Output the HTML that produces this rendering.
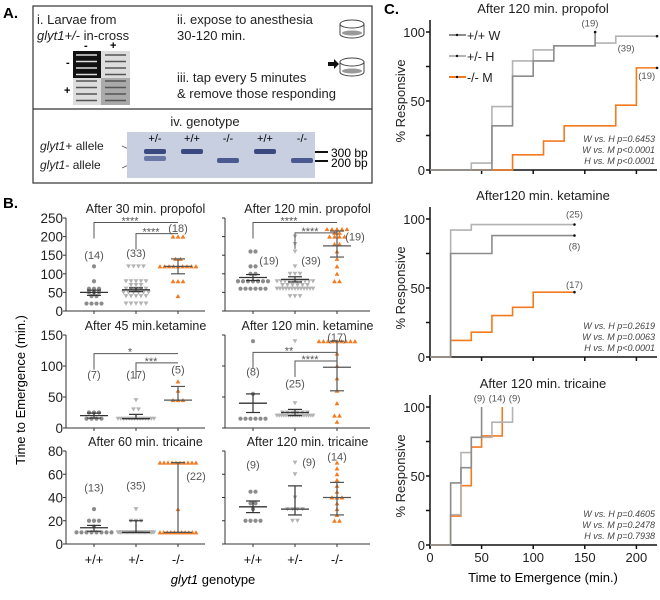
<!DOCTYPE html>
<html><head><meta charset="utf-8"><style>
body{margin:0;background:#fff}
svg{font-family:"Liberation Sans",sans-serif;display:block}
</style></head><body>
<svg id="fig" width="660" height="600" viewBox="0 0 660 600" xmlns="http://www.w3.org/2000/svg">
<g id="panelA">
<text x="3" y="18" font-size="15" font-weight="bold">A.</text>
<rect x="33" y="6" width="339" height="177" fill="none" stroke="#333" stroke-width="1.2"/>
<line x1="33" y1="109" x2="372" y2="109" stroke="#333" stroke-width="1.2"/>
<text x="37" y="24" font-size="13" fill="#222">i. Larvae from</text>
<text x="37" y="40" font-size="13" fill="#222"><tspan font-style="italic">glyt1+/-</tspan> in-cross</text>
<text x="177" y="24" font-size="13" fill="#222">ii. expose to anesthesia</text>
<text x="177" y="40" font-size="13" fill="#222">30-120 min.</text>
<text x="177" y="82" font-size="13" fill="#222">iii. tap every 5 minutes</text>
<text x="177" y="98" font-size="13" fill="#222">&amp; remove those responding</text>
<text x="84" y="49" font-size="11" font-weight="bold">-</text><text x="110" y="49" font-size="11" font-weight="bold">+</text>
<text x="66" y="66" font-size="11" font-weight="bold">-</text><text x="64" y="94" font-size="11" font-weight="bold">+</text>
<g>
<rect x="73" y="51" width="57" height="54" fill="#ddd"/>
<rect x="73" y="51" width="28" height="27" fill="#111"/>
<rect x="101" y="78" width="29" height="27" fill="#aaa"/>
<g id="fish"></g>
</g>
<g>
<ellipse cx="352" cy="24" rx="12" ry="4" fill="none" stroke="#444"/><path d="M340 24 V34 A12 4 0 0 0 364 34 V24" fill="none" stroke="#444"/><ellipse cx="352" cy="33" rx="10" ry="2.5" fill="#999"/></g>
<g>
<ellipse cx="352" cy="62" rx="12" ry="4" fill="none" stroke="#444"/><path d="M340 62 V72 A12 4 0 0 0 364 72 V62" fill="none" stroke="#444"/><ellipse cx="352" cy="71" rx="10" ry="2.5" fill="#999"/>
<path d="M328 62 h6 v-3 l5 5 l-5 5 v-3 h-6z" fill="#111"/></g>
<text x="205" y="126" font-size="13" text-anchor="middle" fill="#222">iv. genotype</text>
<text x="40" y="150" font-size="12" fill="#222"><tspan font-style="italic">glyt1</tspan>+ allele</text>
<text x="40" y="169" font-size="12" fill="#222"><tspan font-style="italic">glyt1</tspan>- allele</text>
<line x1="122" y1="146" x2="140" y2="154" stroke="#555" stroke-width="0.8"/>
<line x1="122" y1="168" x2="140" y2="160" stroke="#555" stroke-width="0.8"/>
<rect x="127" y="132" width="188" height="46" fill="#c7cfe0"/>
<g id="gel"></g>
<line x1="315" y1="152" x2="328" y2="152" stroke="#111" stroke-width="2"/>
<line x1="315" y1="161" x2="328" y2="161" stroke="#111" stroke-width="2"/>
<text x="331" y="157" font-size="12">300 bp</text>
<text x="331" y="167" font-size="12">200 bp</text>
</g>
<g id="panelB">
<text x="3" y="208" font-size="15" font-weight="bold">B.</text>
<text transform="translate(25,390) rotate(-90)" font-size="13" text-anchor="middle">Time to Emergence (min.)</text>
<text x="213" y="584" font-size="13" text-anchor="middle"><tspan font-style="italic">glyt1</tspan> genotype</text>
</g>
<g id="panelC">
<text x="384" y="14" font-size="15" font-weight="bold">C.</text>
<text x="543" y="582" font-size="13" text-anchor="middle">Time to Emergence (min.)</text>
</g>
</svg>
<script>
const NS="http://www.w3.org/2000/svg";
function mk(tag,attrs,parent,txt){const e=document.createElementNS(NS,tag);for(const k in attrs)e.setAttribute(k,attrs[k]);if(txt!==undefined)e.textContent=txt;parent.appendChild(e);return e;}
const ORANGE="#f47a20",DARK="#8c8c8c",LIGHT="#b3b3b3";

const fish=document.getElementById('fish');
for(let r=0;r<8;r++)for(let c=0;c<2;c++){const dark=(r<4&&c==0);
 mk('line',{x1:76+c*29,y1:55+r*6.5,x2:97+c*29,y2:55+r*6.5,stroke:dark?'#ddd':'#555','stroke-width':1.6},fish);}
const gel=document.getElementById('gel');
const laneX=[155,192,228,265,302];
const laneLabels=["+/-","+/+","-/-","+/+","-/-"];
const laneBands=[[1,1],[1,0],[0,1],[1,0],[0,1]];
laneX.forEach((x,i)=>{
 const t=mk('text',{x:x,y:142,'font-size':11,'text-anchor':'middle'},gel,laneLabels[i]);
 
 
 if(laneBands[i][0])mk('rect',{x:x-11,y:149,width:22,height:5,rx:2,fill:'#3a4a80'},gel);
 if(laneBands[i][1])mk('rect',{x:x-11,y:i==0?156:158,width:22,height:5,rx:2,fill:i==0?'#6a78a8':'#4a5a90'},gel);
});

// ---------- Panel B data ----------
const genotypes=["+/+","+/-","-/-"];
const bTitles=["After 30 min. propofol","After 120 min. propofol","After 45 min.ketamine","After 120 min. ketamine","After 60 min. tricaine","After 120 min. tricaine"];
const bMax=[250,250,150,150,80,80];
const bTickStep=[50,50,50,50,20,20];
const bW1=[120,80,60,60,60,50,50,50,40,40,20,20,20,20];
const bH1=[120,120,120,120,80,80,80,80,80,70,70,70,60,60,60,60,60,50,50,50,50,50,50,40,40,40,40,40,20,20,20,20,20];
const bM1=[200,200,200,140,140,120,120,120,120,120,120,120,120,120,80,80,80,40];
const bW2=[160,160,120,120,100,100,80,80,80,80,80,80,80,60,60,60,60,60,60];
const bH2=[200,180,160,120,100,100,100,80,80,80,80,80,80,80,80,80,80,70,70,70,70,70,70,60,60,60,60,60,60,60,60,60,60,60,60,60,40,40,40];
const bM2=[220,220,220,220,220,210,210,200,200,200,200,180,180,160,140,120,100,80,80];
const bW3=[25,25,25,15,15,15,15];
const bH3=[45,30,30,15,15,15,15,15,15,15,15,15,15,15,15,15,15];
const bM3=[75,60,45,45,45];
const bW4=[140,55,15,15,15,15,15,15];
const bH4=[140,40,25,25,25,25,25,25,20,20,20,20,20,20,20,20,20,20,20,20,20,20,20,20,20];
const bM4=[140,140,140,140,140,140,140,140,140,120,100,80,60,40,20,20,10];
const bW5=[30,20,20,20,15,10,10,10,10,10,10,10,10];
const bH5=[30,20,20,20,10,10,10,10,10,10,10,10,10,10,10,10,10,10,10,10,10,10,10,10,10,10,10,10,10,10,10,10,10,10,10];
const bM5=[70,70,70,70,70,70,70,70,70,70,30,10,10,10,10,10,10,10,10,10,10,10];
const bW6=[45,45,35,35,30,20,20,20,20];
const bH6=[70,60,40,30,30,30,30,20,20];
const bM6=[70,65,60,55,50,45,40,40,40,35,30,25,20,20];
const bSeries=[[bW1,bH1,bM1],[bW2,bH2,bM2],[bW3,bH3,bM3],[bW4,bH4,bM4],[bW5,bH5,bM5],[bW6,bH6,bM6]];
const bCenter=[[50,57,120],[90,85,175],[20,15,45],[40,25,98],[14,10,10],[32,30,40]];
const bLow=[[42,52,100],[82,78,145],[16,15,45],[25,20,60],[11,10,10],[27,25,25]];
const bHigh=[[56,62,140],[98,92,215],[24,22,67],[55,30,140],[16,20,70],[37,50,53]];
const bNLabelVal=[[140,145,212],[125,125,190],[80,80,88],[85,65,140],[45,47,55],[65,67,72]];
const bNLabelDx=[[0,0,0],[16,16,18],[0,0,0],[0,0,0],[0,0,18],[0,14,0]];
const sigPanel=[0,0,1,1,2,2,3,3];
const sigFrom=[0,1,0,1,0,1,0,1];
const sigVal=[238,208,238,210,120,105,122,108];
const sigStars=["****","****","****","****","*","***","**","****"];

const pB=document.getElementById('panelB');
const colAxisX=[66,225],colGroupX=[[94,136,178],[253,295,337]],colRight=[205,370];
const rowTop=[218,335,451],rowZero=[311,428,544];
function yB(p,v){const r=Math.floor(p/2);return rowZero[r]-(v/bMax[p])*(rowZero[r]-rowTop[r]);}
function marker(g,shape,x,y,color){
 let e;
 if(shape==0)e=mk('circle',{cx:x,cy:y,r:2.1,fill:color},g);
 else if(shape==1)e=mk('path',{d:`M${x-2.4} ${y-2} L${x+2.4} ${y-2} L${x} ${y+2.2}Z`,fill:color},g);
 else e=mk('path',{d:`M${x-2.4} ${y+2} L${x+2.4} ${y+2} L${x} ${y-2.2}Z`,fill:color},g);
 return e;
}
const colors=[DARK,LIGHT,ORANGE];
for(let p=0;p<6;p++){
 const r=Math.floor(p/2),c=p%2;
 const g=mk('g',{},pB);
 
 
 const ax=colAxisX[c];
 const tt=mk('text',{x:(ax+colRight[c])/2+10,y:rowTop[r]-5,'font-size':12.5,'text-anchor':'middle',fill:'#222'},g,bTitles[p]);
 
 
 mk('line',{x1:ax,y1:rowTop[r],x2:ax,y2:rowZero[r],stroke:'#333','stroke-width':1},g);
 mk('line',{x1:ax,y1:rowZero[r],x2:colRight[c],y2:rowZero[r],stroke:'#333','stroke-width':1},g);
 for(let v=0;v<=bMax[p];v+=bTickStep[p]){
  const y=yB(p,v);
  mk('line',{x1:ax-3,y1:y,x2:ax,y2:y,stroke:'#333'},g);
  if(c==0){const t=mk('text',{x:ax-3,y:y+5,'font-size':13.5,'text-anchor':'end',fill:'#222'},g,v);
   
   }
 }
 for(let k=0;k<3;k++){
  const gx=colGroupX[c][k];
  mk('line',{x1:gx,y1:rowZero[r],x2:gx,y2:rowZero[r]+3,stroke:'#333'},g);
  const vals=bSeries[p][k];const counts={};vals.forEach(v=>counts[v]=(counts[v]||0)+1);
  const seen={};
  vals.forEach(v=>{const n=counts[v];const i=seen[v]=(seen[v]===undefined?0:seen[v]+1);
   const sp=Math.min(5,36/Math.max(n-1,1));
   const m=marker(g,k,gx+(i-(n-1)/2)*sp,yB(p,v),colors[k]);
   
   });
  const lc=k==2?'#555':'#333';
  mk('line',{x1:gx,y1:yB(p,bLow[p][k]),x2:gx,y2:yB(p,bHigh[p][k]),stroke:lc,'stroke-width':1.2},g);
  mk('line',{x1:gx-14,y1:yB(p,bCenter[p][k]),x2:gx+14,y2:yB(p,bCenter[p][k]),stroke:lc,'stroke-width':1.3},g);
  mk('line',{x1:gx-7,y1:yB(p,bLow[p][k]),x2:gx+7,y2:yB(p,bLow[p][k]),stroke:lc,'stroke-width':1.2},g);
  mk('line',{x1:gx-7,y1:yB(p,bHigh[p][k]),x2:gx+7,y2:yB(p,bHigh[p][k]),stroke:lc,'stroke-width':1.2},g);
  const nl=mk('text',{x:gx+bNLabelDx[p][k],y:yB(p,bNLabelVal[p][k]),'font-size':11,'text-anchor':'middle',fill:'#555'},g,'('+vals.length+')');
  
  
  if(r==2){const xl=mk('text',{x:gx,y:564,'font-size':13,'text-anchor':'middle',fill:'#111'},g,genotypes[k]);
   
   }
 }
}
sigPanel.forEach((p,i)=>{
 const c=p%2;const x1=colGroupX[c][sigFrom[i]],x2=colGroupX[c][2];const y=yB(p,sigVal[i]);
 const g=mk('g',{},pB);
 
 
 mk('path',{d:`M${x1} ${y+16} V${y} H${x2}`,fill:'none',stroke:'#555','stroke-width':1},g);
 mk('text',{x:(x1+x2)/2-6,y:y+2,'font-size':11,'text-anchor':'middle',fill:'#555'},g,sigStars[i]);
});

// ---------- Panel C data ----------
const cTitles=["After 120 min. propofol","After120 min. ketamine","After 120 min. tricaine"];
const wT1=[0,60,80,100,120,160],wP1=[0,32,68,79,90,100];
const hT1=[0,40,60,80,100,120,160,180,220],hP1=[0,5,46,79,87,90,92,97,97];
const mT1=[0,80,110,130,180,200,220],mP1=[0,11,21,32,47,74,74];
const wT2=[0,20,60,140],wP2=[0,75,88,88];
const hT2=[0,20,40,140],hP2=[0,92,96,96];
const mT2=[0,20,40,60,80,100,140],mP2=[0,12,18,30,36,47,47];
const wT3=[0,20,30,40,50],wP3=[0,45,56,78,100];
const hT3=[0,20,30,40,60,80],hP3=[0,22,67,78,89,100];
const mT3=[0,20,30,40,50,70],mP3=[0,21,43,71,79,100];
const cTimes=[[wT1,hT1,mT1],[wT2,hT2,mT2],[wT3,hT3,mT3]];
const cPcts=[[wP1,hP1,mP1],[wP2,hP2,mP2],[wP3,hP3,mP3]];
const cN=[[19,39,19],[8,25,17],[9,9,14]];
const cNPos=[[[155,104],[190,86],[210,66]],[[140,78],[140,101],[140,50]],[[48,104],[82,104],[65,104]]];
const cStats=[["W vs. H p=0.6453","W vs. M p<0.0001","H vs. M p<0.0001"],["W vs. H p=0.2619","W vs. M p=0.0063","H vs. M p<0.0001"],["W vs. H p=0.4605","W vs. M p=0.2478","H vs. M p=0.7938"]];
const xTicks=[0,50,100,150,200];
const yTicksC=[0,50,100];
const legendLabels=["+/+  W","+/-   H","-/-    M"];

const pC=document.getElementById('panelC');
const cX0=430,cPxPerMin=1.032,cTop=[32,219,407],cZero=[170,357,545];
function xC(t){return cX0+t*cPxPerMin;}
function yC(i,v){return cZero[i]-v/100*(cZero[i]-cTop[i]);}
const lineColors=[DARK,LIGHT,ORANGE];
for(let i=0;i<3;i++){
 const g=mk('g',{},pC);
 
 
 const t=mk('text',{x:543,y:cTop[i]-19,'font-size':13,'text-anchor':'middle',fill:'#222'},g,cTitles[i]);
 
 
 const yt=mk('text',{transform:`translate(405,${(cTop[i]+cZero[i])/2}) rotate(-90)`,'font-size':13,'text-anchor':'middle',fill:'#222'},g,'% Responsive');
 
 
 mk('line',{x1:cX0,y1:cTop[i]-12,x2:cX0,y2:cZero[i]+3,stroke:'#111','stroke-width':1.5},g);
 mk('line',{x1:cX0,y1:cZero[i],x2:xC(220),y2:cZero[i],stroke:'#111','stroke-width':1.5},g);
 for(let v=0;v<=100;v+=25){const y=yC(i,v);mk('line',{x1:cX0-4,y1:y,x2:cX0,y2:y,stroke:'#111','stroke-width':1.5},g);}
 yTicksC.forEach(v=>{const tl=mk('text',{x:cX0-5,y:yC(i,v)+5,'font-size':13,'text-anchor':'end',fill:'#222'},g,v);
  
  });
 xTicks.forEach(v=>{mk('line',{x1:xC(v),y1:cZero[i],x2:xC(v),y2:cZero[i]+4,stroke:'#111','stroke-width':1.5},g);
  if(i==2){const tl=mk('text',{x:xC(v),y:cZero[i]+17,'font-size':13,'text-anchor':'middle',fill:'#222'},g,v);
   
   }});
 const order=[2,1,0];
 order.forEach(s=>{
  const T=cTimes[i][s],P=cPcts[i][s];
  let d=`M${xC(0)} ${yC(i,0)}`;
  for(let j=1;j<T.length;j++){d+=` H${xC(T[j])} V${yC(i,P[j])}`;}
  const pth=mk('path',{d:d,fill:'none',stroke:lineColors[s],'stroke-width':1.6},g);
  
  
  const last=T.length-1;
  if(i<2)mk('circle',{cx:xC(T[last]),cy:yC(i,P[last]),r:1.3,fill:'#111'},g);
  const nl=mk('text',{x:xC(cNPos[i][s][0]),y:yC(i,cNPos[i][s][1]),'font-size':9.5,'text-anchor':'middle',fill:'#555'},g,'('+cN[i][s]+')');
  
  
 });
 cStats[i].forEach((s,j)=>{const st=mk('text',{x:655,y:cZero[i]-28+j*11,'font-size':9,'font-style':'italic','text-anchor':'end',fill:'#444'},g,s);
  
  });
}
legendLabels.forEach((l,k)=>{
 const g=mk('g',{},pC);
 
 
 const y=35+k*21;
 mk('line',{x1:449,y1:y,x2:466,y2:y,stroke:lineColors[k],'stroke-width':2},g);
 mk('circle',{cx:457,cy:y,r:1.2,fill:'#111'},g);
 mk('text',{x:467,y:y+5,'font-size':12.5,fill:'#222'},g,l);
});
</script>
</body></html>
